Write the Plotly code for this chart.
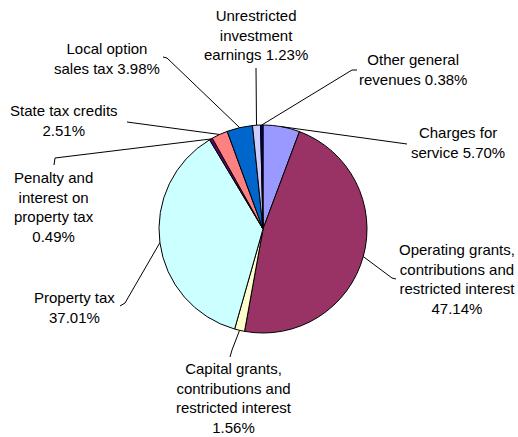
import math
import plotly.graph_objects as go

# ---- data ----
categories = [
    "Charges for<br>service 5.70%",
    "Operating grants,<br>contributions and<br>restricted interest<br>47.14%",
    "Capital grants,<br>contributions and<br>restricted interest<br>1.56%",
    "Property tax<br>37.01%",
    "Penalty and<br>interest on<br>property tax<br>0.49%",
    "State tax credits<br>2.51%",
    "Local option<br>sales tax 3.98%",
    "Unrestricted<br>investment<br>earnings 1.23%",
    "Other general<br>revenues 0.38%",
]
values = [5.70, 47.14, 1.56, 37.01, 0.49, 2.51, 3.98, 1.23, 0.38]
colors = ["#9999FF", "#993366", "#FFFFCC", "#CCFFFF", "#660066",
          "#FF8080", "#0066CC", "#CCCCFF", "#000080"]

# ---- layout (pixels) ----
W, H = 518, 437
CX, CY, R = 263, 229, 104
label_pos = [(458, 143), (457, 278.5), (234, 398), (74, 307), (54, 207),
             (64, 120), (107, 58), (256, 35), (413, 69.5)]
leader_pts = [
    [(407, 144)],
    [(392, 278), (396, 279)],
    [(232, 350), (230, 357)],
    [(125, 303), (120, 306)],
    [(55, 158), (54, 165)],
    [(127, 122)],
    [(167, 58), (163, 57)],
    [(256, 68)],
    [(352, 70), (357, 70)],
]

def px(x):
    return x / W

def py(y):
    return 1 - y / H

fig = go.Figure(go.Pie(
    labels=categories,
    values=values,
    sort=False,
    direction="clockwise",
    rotation=0,
    textinfo="none",
    hoverinfo="label+percent",
    marker=dict(colors=colors, line=dict(color="black", width=1)),
    domain=dict(x=[px(CX - R), px(CX + R)], y=[py(CY + R), py(CY - R)]),
    showlegend=False,
))

total = sum(values)
cum = 0
shapes = []
annotations = []
for lab, v, lp, pts in zip(categories, values, label_pos, leader_pts):
    mid = (cum + v / 2) / total * 2 * math.pi
    cum += v
    ex = CX + R * math.sin(mid)
    ey = CY - R * math.cos(mid)
    path = f"M {px(ex)} {py(ey)}"
    for (x, y) in pts:
        path += f" L {px(x)} {py(y)}"
    shapes.append(dict(type="path", xref="paper", yref="paper", path=path,
                       line=dict(color="black", width=1)))
    annotations.append(dict(x=px(lp[0]), y=py(lp[1]), xref="paper", yref="paper",
                            text=lab, showarrow=False, xanchor="center",
                            yanchor="middle", align="center",
                            font=dict(family="Liberation Sans, Arial", size=15,
                                      color="black")))

fig.update_layout(
    width=W, height=H,
    margin=dict(l=0, r=0, t=0, b=0),
    paper_bgcolor="white",
    plot_bgcolor="white",
    shapes=shapes,
    annotations=annotations,
)

fig.write_html("out.html",
               config={"displayModeBar": False},
               post_script="document.body.style.margin='0';document.body.style.overflow='hidden';")
